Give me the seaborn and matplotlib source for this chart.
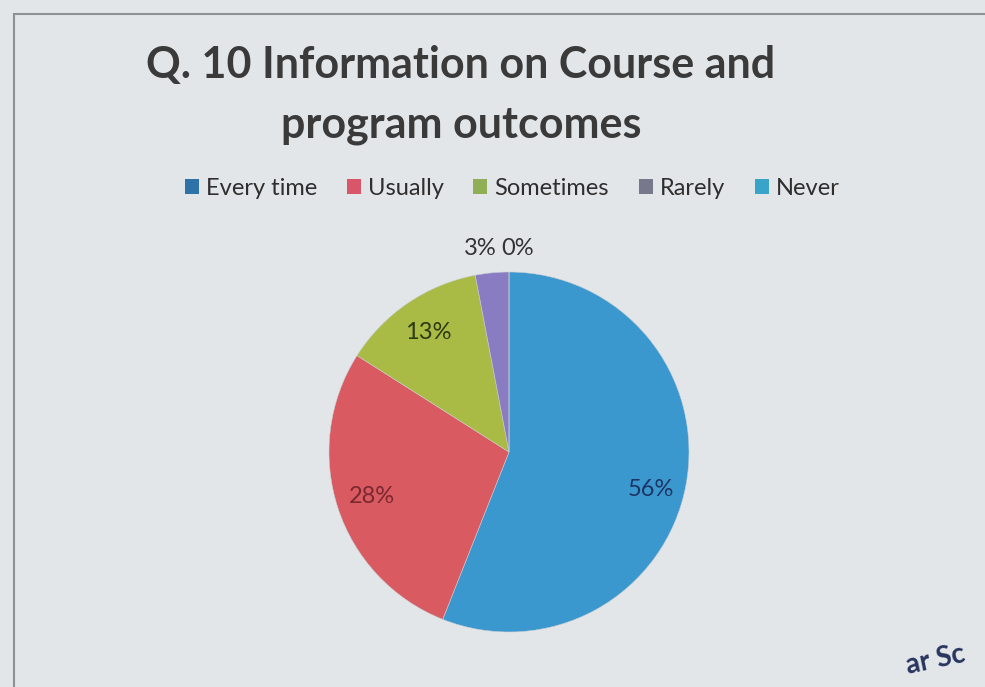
import matplotlib
matplotlib.use("Agg")
import matplotlib.pyplot as plt
import matplotlib.patches as mpatches
import seaborn as sns

# data
categories = ["Every time", "Usually", "Sometimes", "Rarely", "Never"]
percent = [56, 28, 13, 3, 0]
slice_colors = ["#3b98cf", "#d95a60", "#a9bb45", "#8a7cc2", "#45b0d2"]
legend_colors = ["#2f72a8", "#d8556a", "#8fae55", "#77788c", "#3aa4c8"]
label_colors = ["#1d3566", "#7a2830", "#2c3912", "#333333", "#333333"]
title = "Q. 10 Information on Course and\nprogram outcomes"

sns.set_theme(style="white")
plt.rcParams["font.family"] = ["Lato", "DejaVu Sans"]

bg = "#e3e6e9"
fig = plt.figure(figsize=(9.85, 6.87), dpi=100, facecolor=bg)

# frame of the chart area
fig.patches.append(mpatches.Rectangle((14 / 985, -0.05), 1.1, 1 - 14 / 687 + 0.05,
                                      transform=fig.transFigure, fill=False,
                                      edgecolor="#8d9094", linewidth=1.5))

ax = fig.add_axes([329 / 985, 55 / 687, 360 / 985, 360 / 687])
ax.set_facecolor(bg)
wedges, texts, autotexts = ax.pie(
    percent, colors=slice_colors, startangle=90, counterclock=False,
    autopct=lambda p: f"{p:.0f}%", pctdistance=0.8,
    wedgeprops=dict(edgecolor="#c8cdd2", linewidth=0.4),
    textprops=dict(fontsize=17),
)
ax.set_xlim(-1, 1)
ax.set_ylim(-1, 1)
for t, c in zip(autotexts, label_colors):
    t.set_color(c)
# small slices: labels sit outside, side by side (as in the reference)
autotexts[3].set_position((-0.16, 1.13))
autotexts[4].set_position((0.05, 1.13))
x0, y0 = autotexts[0].get_position()
autotexts[0].set_position((x0, y0 - 0.06))

fig.text(0.468, 0.862, title, ha="center", va="center", fontsize=31,
         fontweight="bold", color="#3a3a3a", linespacing=1.6)

handles = [mpatches.Patch(facecolor=c, edgecolor="none") for c in legend_colors]
fig.legend(handles, categories, loc="center", bbox_to_anchor=(0.52, 0.726),
           ncol=5, frameon=False, fontsize=17, handlelength=0.6, handleheight=0.6,
           handletextpad=0.3, columnspacing=1.25, labelcolor="#2e2e2e")

# stamp fragment in the corner
fig.text(0.95, 0.04, "ar Sc", ha="center", va="center", fontsize=20,
         fontweight="bold", color="#27345e", rotation=12)

fig.savefig("out.png", dpi=100, facecolor=bg)
